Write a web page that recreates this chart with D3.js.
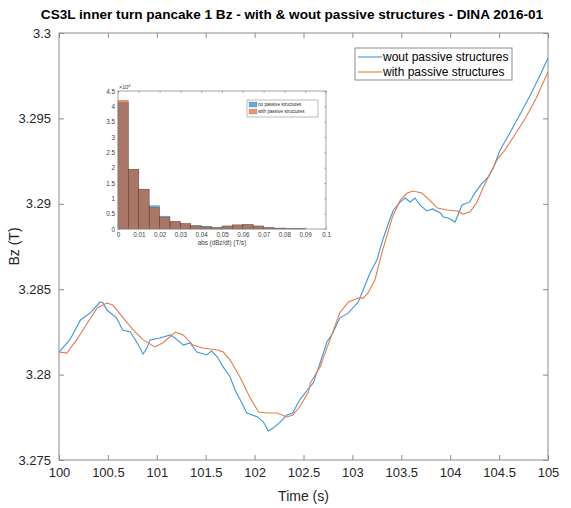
<!DOCTYPE html>
<html>
<head>
<meta charset="utf-8">
<script src="https://cdn.jsdelivr.net/npm/d3@7"></script>
<style>
  body { margin: 0; background: #fff; }
  text { font-family: "Liberation Sans", Arial, Helvetica, sans-serif; }
</style>
</head>
<body>
<svg id="chart" width="571" height="508"></svg>
<script>
// Bz at the inner turn of pancake 1, without passive structures
const timeWout = [100.00,100.11,100.22,100.32,100.42,100.45,100.49,100.59,100.65,100.73,100.80,100.86,100.90,100.93,
  101.03,101.14,101.21,101.27,101.34,101.41,101.51,101.56,101.62,101.68,101.75,101.80,101.87,101.92,
  102.03,102.09,102.14,102.19,102.26,102.33,102.39,102.46,102.54,102.60,102.67,102.74,102.80,102.87,102.96,
  103.06,103.11,103.18,103.25,103.31,103.38,103.42,103.49,103.54,103.59,103.64,103.69,103.76,103.82,103.90,103.93,103.98,
  104.05,104.10,104.12,104.20,104.25,104.33,104.39,104.44,104.51,104.61,104.71,104.82,104.92,105.00];
const bzWout = [3.28132,3.28203,3.28320,3.28361,3.28425,3.28419,3.28378,3.28331,3.28261,3.28249,3.28185,3.28121,3.28156,3.28203,
  3.28214,3.28232,3.28203,3.28173,3.28185,3.28132,3.28115,3.28138,3.28103,3.28044,3.27986,3.27910,3.27834,3.27775,
  3.27752,3.27722,3.27670,3.27687,3.27722,3.27763,3.27775,3.27851,3.27910,3.27951,3.28068,3.28191,3.28244,3.28331,3.28361,
  3.28425,3.28495,3.28595,3.28671,3.28788,3.28905,3.28964,3.29011,3.29034,3.29011,3.29034,3.28993,3.28958,3.28970,3.28946,3.28923,3.28917,
  3.28893,3.28964,3.28993,3.29011,3.29063,3.29122,3.29157,3.29210,3.29315,3.29415,3.29520,3.29637,3.29754,3.29854];

// Bz with passive structures
const timeWith = [100.00,100.08,100.18,100.29,100.39,100.49,100.55,100.65,100.76,100.86,100.98,
  101.06,101.19,101.27,101.37,101.47,101.62,101.68,101.75,101.85,101.95,
  102.04,102.13,102.23,102.33,102.39,102.46,102.55,102.57,102.67,102.77,102.87,102.96,
  103.06,103.11,103.16,103.23,103.31,103.41,103.49,103.56,103.62,103.71,103.79,103.87,103.97,
  104.07,104.13,104.20,104.27,104.34,104.41,104.49,104.56,104.66,104.77,104.87,105.00];
const bzWith = [3.28132,3.28126,3.28203,3.28302,3.28390,3.28419,3.28407,3.28337,3.28261,3.28203,3.28162,
  3.28185,3.28249,3.28232,3.28173,3.28156,3.28144,3.28132,3.28085,3.27986,3.27869,
  3.27781,3.27775,3.27775,3.27752,3.27763,3.27810,3.27898,3.27951,3.28044,3.28203,3.28361,3.28425,
  3.28448,3.28448,3.28478,3.28554,3.28730,3.28923,3.29022,3.29063,3.29075,3.29063,3.29022,3.28975,3.28964,
  3.28958,3.28940,3.28952,3.29005,3.29098,3.29180,3.29268,3.29315,3.29403,3.29502,3.29608,3.29772];

const xTicks = [100, 100.5, 101, 101.5, 102, 102.5, 103, 103.5, 104, 104.5, 105];
const yTicks = [3.275, 3.28, 3.285, 3.29, 3.295, 3.3];

// Histogram of |dBz/dt|, bin edges in T/s, counts in units of 1e4
const binEdges = [0,0.005,0.01,0.015,0.02,0.025,0.03,0.035,0.04,0.045,0.05,0.055,0.06,0.065,0.07,0.075,0.08,0.085,0.09,0.095,0.1];
const countsNoPassive = [4.13,1.95,1.30,0.76,0.42,0.25,0.18,0.12,0.09,0.05,0.10,0.13,0.15,0.10,0.05,0.03,0.01,0.01,0,0];
const countsWithPassive = [4.20,1.95,1.30,0.70,0.38,0.25,0.18,0.10,0.07,0.05,0.10,0.14,0.15,0.10,0.05,0.03,0.01,0.01,0,0];
const histXTicks = [0,0.01,0.02,0.03,0.04,0.05,0.06,0.07,0.08,0.09,0.1];
const histYTicks = [0,0.5,1,1.5,2,2.5,3,3.5,4,4.5];

const BLUE = "#0072BD", ORANGE = "#D95319";
const LINE_BLUE = "#3d97d6", LINE_ORANGE = "#e57a4c";
const AXIS = "#8c8c8c", TEXT = "#262626";

const svg = d3.select("#chart");

// ---------- main axes ----------
const m = { left: 59, right: 548, top: 33, bottom: 460 };
const x = d3.scaleLinear().domain([100, 105]).range([m.left, m.right]);
const y = d3.scaleLinear().domain([3.275, 3.3]).range([m.bottom, m.top]);

const g = svg.append("g");
const tickLen = 5;

// box
g.append("rect").attr("x", m.left).attr("y", m.top)
  .attr("width", m.right - m.left).attr("height", m.bottom - m.top)
  .attr("fill", "none").attr("stroke", AXIS).attr("stroke-width", 1);

function styleAxis(sel) {
  sel.select(".domain").remove();
  sel.selectAll(".tick line").attr("stroke", AXIS);
  sel.selectAll(".tick text").attr("fill", TEXT).attr("font-size", 13);
}

g.append("g").attr("transform", `translate(0,${m.bottom})`)
  .call(d3.axisBottom(x).tickValues(xTicks).tickSize(-tickLen).tickPadding(8).tickFormat(d3.format("")))
  .call(styleAxis);
g.append("g").attr("transform", `translate(0,${m.top})`)
  .call(d3.axisTop(x).tickValues(xTicks).tickSize(-tickLen).tickFormat(""))
  .call(styleAxis);
g.append("g").attr("transform", `translate(${m.left},0)`)
  .call(d3.axisLeft(y).tickValues(yTicks).tickSize(-tickLen).tickPadding(8).tickFormat(d3.format("")))
  .call(styleAxis);
g.append("g").attr("transform", `translate(${m.right},0)`)
  .call(d3.axisRight(y).tickValues(yTicks).tickSize(-tickLen).tickFormat(""))
  .call(styleAxis);

// curves
const line = d3.line().x(d => x(d[0])).y(d => y(d[1]));
const wout = timeWout.map((t, i) => [t, bzWout[i]]);
const withP = timeWith.map((t, i) => [t, bzWith[i]]);

g.append("path").datum(wout).attr("d", line)
  .attr("fill", "none").attr("stroke", LINE_BLUE).attr("stroke-width", 1.1);
g.append("path").datum(withP).attr("d", line)
  .attr("fill", "none").attr("stroke", LINE_ORANGE).attr("stroke-width", 1.1);

// labels
svg.append("text").attr("x", 292).attr("y", 19).attr("text-anchor", "middle")
  .attr("font-size", 13.6).attr("font-weight", "bold").attr("fill", "#000")
  .text("CS3L inner turn pancake 1 Bz - with & wout passive structures - DINA 2016-01");
svg.append("text").attr("x", (m.left + m.right) / 2).attr("y", 501).attr("text-anchor", "middle")
  .attr("font-size", 14).attr("fill", TEXT).text("Time (s)");
svg.append("text").attr("transform", `translate(19,${(m.top + m.bottom) / 2}) rotate(-90)`)
  .attr("text-anchor", "middle").attr("font-size", 14).attr("fill", TEXT).text("Bz (T)");

// legend
const lg = svg.append("g");
lg.append("rect").attr("x", 355).attr("y", 48).attr("width", 157).attr("height", 32)
  .attr("fill", "#fff").attr("stroke", AXIS);
[["wout passive structures", LINE_BLUE], ["with passive structures", LINE_ORANGE]].forEach(([label, c], i) => {
  const yy = 57 + i * 15;
  lg.append("line").attr("x1", 358).attr("x2", 382).attr("y1", yy).attr("y2", yy)
    .attr("stroke", c).attr("stroke-width", 1.1);
  lg.append("text").attr("x", 383).attr("y", yy + 4).attr("font-size", 12).attr("fill", "#000").text(label);
});

// ---------- inset histogram ----------
const h = { left: 118, right: 326, top: 91, bottom: 229 };
const hx = d3.scaleLinear().domain([0, 0.1]).range([h.left, h.right]);
const hy = d3.scaleLinear().domain([0, 4.5]).range([h.bottom, h.top]);
const ig = svg.append("g");

ig.append("rect").attr("x", h.left).attr("y", h.top)
  .attr("width", h.right - h.left).attr("height", h.bottom - h.top)
  .attr("fill", "#fff");

const bins = (counts) => counts.map((c, i) => ({ x0: binEdges[i], x1: binEdges[i + 1], c }));
[[countsNoPassive, BLUE], [countsWithPassive, ORANGE]].forEach(([counts, c]) => {
  ig.append("g").selectAll("rect").data(bins(counts)).join("rect")
    .attr("x", d => hx(d.x0)).attr("width", d => hx(d.x1) - hx(d.x0))
    .attr("y", d => hy(d.c)).attr("height", d => hy(0) - hy(d.c))
    .attr("fill", c).attr("fill-opacity", 0.6)
    .attr("stroke", "#000").attr("stroke-opacity", 0.3).attr("stroke-width", 0.5);
});

ig.append("rect").attr("x", h.left).attr("y", h.top)
  .attr("width", h.right - h.left).attr("height", h.bottom - h.top)
  .attr("fill", "none").attr("stroke", AXIS).attr("stroke-width", 0.8);

function styleSmall(sel) {
  sel.select(".domain").remove();
  sel.selectAll(".tick line").attr("stroke", AXIS).attr("stroke-width", 0.6);
  sel.selectAll(".tick text").attr("fill", "#404040").attr("font-size", 6.3);
}
const hTick = 2;
ig.append("g").attr("transform", `translate(0,${h.bottom})`)
  .call(d3.axisBottom(hx).tickValues(histXTicks).tickSize(-hTick).tickPadding(4).tickFormat(d3.format("")))
  .call(styleSmall);
ig.append("g").attr("transform", `translate(0,${h.top})`)
  .call(d3.axisTop(hx).tickValues(histXTicks).tickSize(-hTick).tickFormat(""))
  .call(styleSmall);
ig.append("g").attr("transform", `translate(${h.left},0)`)
  .call(d3.axisLeft(hy).tickValues(histYTicks).tickSize(-hTick).tickPadding(3).tickFormat(d3.format("")))
  .call(styleSmall);
ig.append("g").attr("transform", `translate(${h.right},0)`)
  .call(d3.axisRight(hy).tickValues(histYTicks).tickSize(-hTick).tickFormat(""))
  .call(styleSmall);

const ex = ig.append("text").attr("x", h.left + 1).attr("y", h.top - 2)
  .attr("font-size", 5.5).attr("fill", "#404040");
ex.append("tspan").text("\u00d710");
ex.append("tspan").attr("dy", -2.5).attr("font-size", 4).text("4");

ig.append("text").attr("x", (h.left + h.right) / 2).attr("y", h.bottom + 16).attr("text-anchor", "middle")
  .attr("font-size", 6.3).attr("fill", "#404040").text("abs (dBz/dt)  (T/s)");

// inset legend
ig.append("rect").attr("x", 247).attr("y", 100).attr("width", 71).attr("height", 17)
  .attr("fill", "#fff").attr("stroke", AXIS).attr("stroke-width", 0.6);
[["no passive structures", BLUE], ["with passive structures", ORANGE]].forEach(([label, c], i) => {
  const yy = 102 + i * 7;
  ig.append("rect").attr("x", 249).attr("y", yy).attr("width", 8).attr("height", 5)
    .attr("fill", c).attr("fill-opacity", 0.6).attr("stroke", "#000").attr("stroke-opacity", 0.3).attr("stroke-width", 0.4);
  ig.append("text").attr("x", 258).attr("y", yy + 4.2).attr("font-size", 4.6).attr("fill", TEXT).text(label);
});
</script>
</body>
</html>
